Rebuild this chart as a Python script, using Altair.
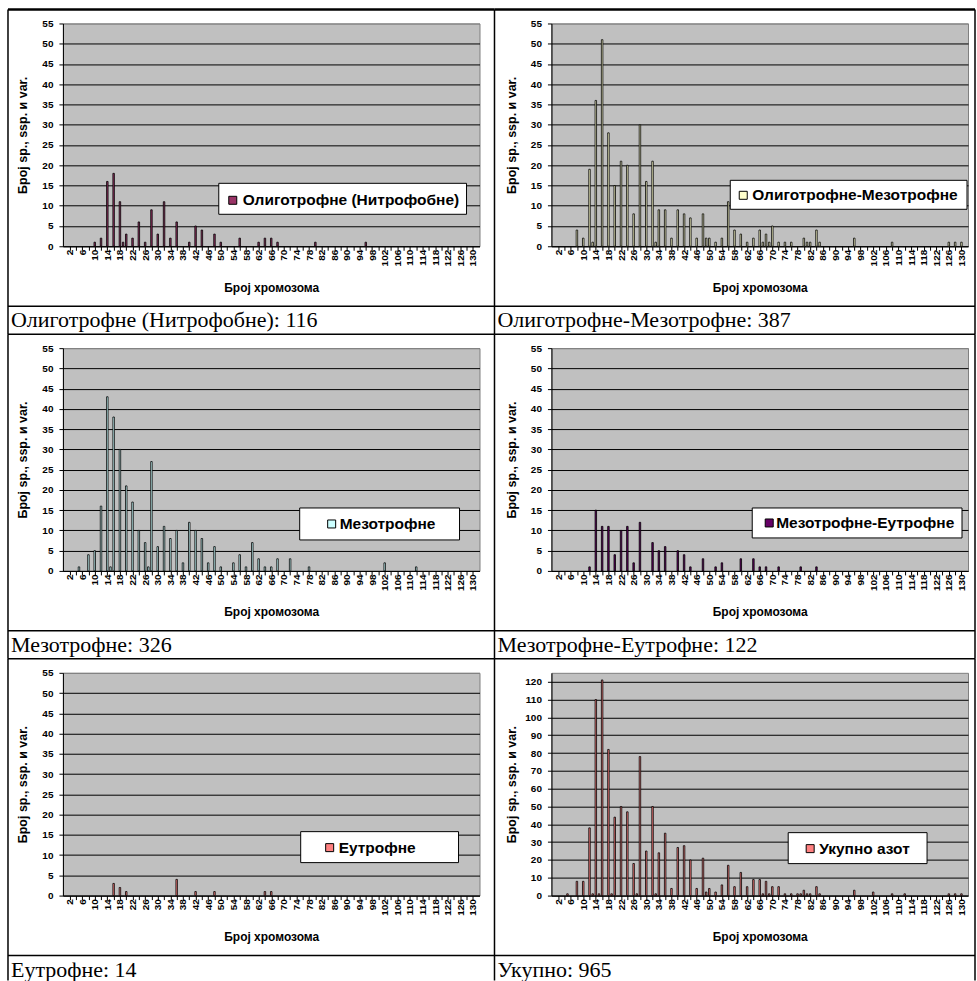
import altair as alt
import pandas as pd

# ---------------- data (chromosome number -> number of taxa) ----------------
chrom_oligo = [10, 12, 14, 16, 18, 19, 20, 22, 24, 26, 28, 30, 32, 34, 36, 40, 42, 44, 48, 50, 56, 62, 64, 66, 68, 80, 96]
count_oligo = [1, 2, 16, 18, 11, 1, 3, 2, 6, 1, 9, 3, 11, 2, 6, 1, 5, 4, 3, 1, 2, 1, 2, 2, 1, 1, 1]

chrom_olmez = [8, 10, 12, 13, 14, 16, 18, 20, 22, 24, 26, 28, 30, 32, 33, 34, 36, 38, 40, 42,
               44, 46, 48, 49, 50, 52, 54, 56, 58, 60, 62, 64, 66, 67, 68, 69, 70, 72, 74, 76,
               80, 81, 82, 84, 85, 96, 108, 126, 128, 130]
count_olmez = [4, 2, 19, 1, 36, 51, 28, 15, 21, 20, 8, 30, 16, 21, 1, 9, 9, 2, 9, 8,
               7, 2, 8, 2, 2, 1, 2, 11, 4, 3, 1, 2, 4, 1, 3, 1, 5, 1, 1, 1,
               2, 1, 1, 4, 1, 2, 1, 1, 1, 1]

chrom_mez = [5, 8, 10, 12, 14, 15, 16, 18, 20, 22, 24, 26, 27, 28, 30, 32, 34, 36, 38, 40,
             42, 44, 46, 48, 50, 54, 56, 58, 60, 62, 64, 66, 68, 72, 78, 102, 112]
count_mez = [1, 4, 5, 16, 43, 1, 38, 30, 21, 17, 10, 7, 1, 27, 6, 11, 8, 10, 2, 12,
             10, 8, 2, 6, 1, 2, 4, 1, 7, 3, 1, 1, 3, 3, 1, 2, 1]

chrom_mezeu = [12, 14, 16, 18, 20, 22, 24, 26, 28, 32, 34, 36, 40, 42, 44, 48, 52, 54, 60, 64, 66, 68, 72, 79, 84]
count_mezeu = [1, 15, 11, 11, 4, 10, 11, 2, 12, 7, 5, 6, 5, 4, 1, 3, 1, 2, 3, 3, 1, 1, 1, 1, 1]

chrom_eu = [16, 18, 20, 36, 42, 48, 64, 66]
count_eu = [3, 2, 1, 4, 1, 1, 1, 1]

chrom_total = [5, 8, 10, 12, 13, 14, 15, 16, 18, 19, 20, 22, 24, 26, 27, 28, 30, 32, 33, 34,
               36, 38, 40, 42, 44, 46, 48, 49, 50, 52, 54, 56, 58, 60, 62, 64, 66, 67, 68, 69,
               70, 72, 74, 76, 78, 79, 80, 81, 82, 84, 85, 96, 102, 108, 112, 126, 128, 130]
count_total = [1, 8, 8, 38, 1, 110, 1, 121, 82, 1, 44, 50, 47, 18, 1, 78, 25, 50, 1, 24,
               35, 4, 27, 28, 20, 4, 21, 2, 4, 2, 6, 17, 5, 13, 5, 9, 9, 1, 8, 1,
               5, 5, 1, 1, 1, 1, 3, 1, 1, 5, 1, 3, 2, 1, 1, 1, 1, 1]

legend_labels = ["Олиготрофне (Нитрофобне)", "Олиготрофне-Мезотрофне", "Мезотрофне",
                 "Мезотрофне-Еутрофне", "Еутрофне", "Укупно азот"]
captions = ["Олиготрофне (Нитрофобне): 116", "Олиготрофне-Мезотрофне: 387", "Мезотрофне: 326",
            "Мезотрофне-Еутрофне: 122", "Еутрофне: 14", "Укупно: 965"]
colors = ["#993366", "#FFFFCC", "#CCFFFF", "#660066", "#FF8080", "#FF8080"]

x_tick_values = list(range(2, 131, 2))
x_title = "Број хромозома"
y_title = "Број sp., ssp. и var."

FONT = "Liberation Sans"
SERIF = "Liberation Serif"
W, H = 417, 223

one = pd.DataFrame({"k": [0]})


def deco_rect(x1, x2, y1, y2, fill, sw=1):
    return alt.Chart(one).mark_rect(fill=fill, stroke="black", strokeWidth=sw).encode(
        x=alt.value(x1), x2=alt.value(x2), y=alt.value(y1), y2=alt.value(y2))


def hrule(x1, x2, y, sw):
    return alt.Chart(one).mark_rule(color="black", strokeWidth=sw).encode(
        x=alt.value(x1), x2=alt.value(x2), y=alt.value(y))


def vrule(x, y1, y2, sw):
    return alt.Chart(one).mark_rule(color="black", strokeWidth=sw).encode(
        x=alt.value(x), y=alt.value(y1), y2=alt.value(y2))


def panel(i, chroms, counts, ymax, ytop_tick, ystep, box, sq, txt):
    col, row = i % 2, i // 2
    df = pd.DataFrame({"chrom": chroms, "count": counts})
    yvals = list(range(0, ytop_tick + 1, ystep))
    bars = alt.Chart(df).mark_bar(size=1.5, fill=colors[i], stroke="black", strokeWidth=0.8).encode(
        x=alt.X("chrom:Q",
                scale=alt.Scale(domain=[1.5, 130.5], nice=False, zero=False),
                axis=alt.Axis(values=x_tick_values,
                              labelExpr="(datum.value - 2) % 4 == 0 ? datum.label : ''",
                              labelAngle=-90, labelFont=FONT, labelFontSize=10,
                              labelFontWeight="bold", labelColor="black", labelPadding=-1,
                              labelOverlap=False, labelFlush=False, tickSize=4,
                              tickColor="black", domainColor="black", grid=False,
                              title=x_title, titleFont=FONT, titleFontSize=12,
                              titleFontWeight="bold", titleColor="black",
                              titleY=41, titleBaseline="middle")),
        y=alt.Y("count:Q",
                scale=alt.Scale(domain=[0, ymax], nice=False),
                axis=alt.Axis(values=yvals, labelFont=FONT, labelFontSize=10,
                              labelFontWeight="bold", labelColor="black", labelPadding=6,
                              labelOverlap=False, labelFlush=False, tickSize=4,
                              tickColor="black", domainColor="black", grid=True,
                              gridColor=alt.condition(f"datum.value == {ymax}",
                                                      alt.value("#808080"), alt.value("black")),
                              gridWidth=1, title=y_title, titleFont=FONT, titleFontSize=12.5,
                              titleFontWeight="bold", titleColor="black", titleX=-40,
                              titleBaseline="middle")),
    )
    layers = [bars,
              deco_rect(box[0], box[1], box[2], box[3], "white"),
              deco_rect(sq[0], sq[1], sq[2], sq[3], colors[i]),
              alt.Chart(one).mark_text(text=legend_labels[i], font=FONT, fontSize=15.5,
                                       fontWeight="bold", align="left", baseline="middle",
                                       color="black").encode(x=alt.value(txt[0]), y=alt.value(txt[1]))]
    # table frame
    if col == 0:
        lx, rx = -55, 432
        cap_x = -52
        layers.append(vrule(-55, -14, 311 if row < 2 else 308, 1.5))
    else:
        lx, rx = -57, 424
        cap_x = -54
        layers.append(vrule(-57, -14, 311 if row < 2 else 308, 1.5))
        layers.append(vrule(424, -14, 311 if row < 2 else 308, 1.5))
    layers.append(hrule(lx, rx, -14, 2.5 if row == 0 else 1.5))
    layers.append(hrule(lx, rx, 283, 1.5))
    layers.append(alt.Chart(one).mark_text(text=captions[i], font=SERIF, fontSize=22,
                                           align="left", baseline="alphabetic",
                                           color="black").encode(x=alt.value(cap_x), y=alt.value(304)))
    return alt.layer(*layers).properties(width=W, height=H)


panels = [
    panel(0, chrom_oligo, count_oligo, 55, 55, 5, (156, 404, 160, 191), (166, 174, 173, 181), (180, 177)),
    panel(1, chrom_olmez, count_olmez, 55, 55, 5, (179, 416, 157, 186), (188, 196, 168, 176), (201, 172)),
    panel(2, chrom_mez, count_mez, 55, 55, 5, (237, 397, 160, 192), (265, 273, 172, 180), (277, 176)),
    panel(3, chrom_mezeu, count_mezeu, 55, 55, 5, (201, 411, 160, 190), (214, 222, 171, 179), (225, 175)),
    panel(4, chrom_eu, count_eu, 55, 55, 5, (238, 396, 159, 190), (263, 271, 171, 179), (276, 175)),
    panel(5, chrom_total, count_total, 125, 120, 10, (237, 376, 160, 191), (255, 263, 172, 180), (268, 176)),
]

chart = alt.concat(*panels, columns=2, spacing={"row": 102, "column": 72}, bounds="flush").properties(
    padding={"left": 6, "top": 7, "right": 0, "bottom": 0}
).configure_view(fill="#C0C0C0", stroke="#808080", strokeWidth=1)

chart.save("out.html", embed_options={"renderer": "svg", "actions": False})
